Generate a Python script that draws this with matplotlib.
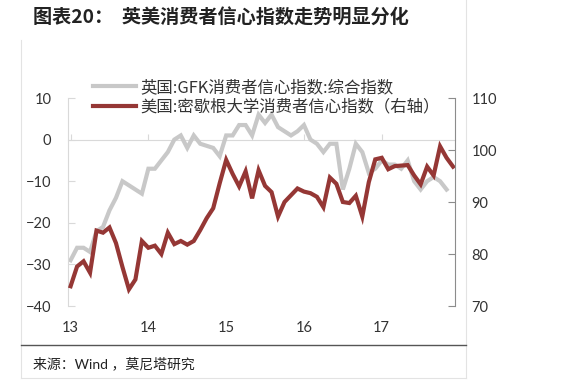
#!/usr/bin/env python3
"""UK vs US consumer confidence, 2013-2017 (monthly)."""

import matplotlib
matplotlib.use("Agg")
import matplotlib.pyplot as plt
from matplotlib.lines import Line2D

plt.rcParams["font.family"] = ["Lato", "Noto Sans CJK SC", "DejaVu Sans"]

# UK GfK composite, Jan 2013 - Nov 2017 (left axis)
uk_gfk = [
    -29, -26, -26, -27, -22, -21, -17, -14, -10, -11, -12, -13,
    -7, -7, -5, -3, 0, 1, -2, 1, -1, -1.5, -2, -4,
    1, 1, 3.5, 3.5, 1, 6, 4, 6, 3, 2, 1, 2,
    3.5, 0, -1, -3, -1, -1, -12, -7, -1, -3, -8, -7,
    -5, -6, -6, -7, -5, -10, -12, -10, -9, -10, -12,
]
# US Michigan sentiment, Jan 2013 - Dec 2017 (right axis)
us_michigan = [
    73.8, 77.6, 78.6, 76.4, 84.5, 84.1, 85.1, 82.1, 77.5, 73.2, 75.1, 82.5,
    81.2, 81.6, 80.0, 84.1, 81.9, 82.5, 81.8, 82.5, 84.6, 86.9, 88.8, 93.6,
    98.1, 95.4, 93.0, 95.9, 90.7, 96.1, 93.1, 91.9, 87.2, 90.0, 91.3, 92.6,
    92.0, 91.7, 91.0, 89.0, 94.7, 93.5, 90.0, 89.8, 91.2, 87.2, 93.8, 98.2,
    98.5, 96.3, 96.9, 97.0, 97.1, 95.1, 93.4, 96.8, 95.1, 100.7, 98.5, 96.8,
]
year_ticks = [0, 12, 24, 36, 48]
year_labels = ["13", "14", "15", "16", "17"]
left_ticks = [10, 0, -10, -20, -30, -40]
right_ticks = [110, 100, 90, 80, 70]

label_uk = "英国:GFK消费者信心指数:综合指数"
label_us = "美国:密歇根大学消费者信心指数（右轴）"

GRAY = "#c8c8c8"
RED = "#953735"
TXT = "#333333"

fig = plt.figure(figsize=(5.69, 3.90), dpi=100)
ax = fig.add_axes([68 / 569, 1 - 306 / 390, (455 - 68) / 569, (306 - 98) / 390])
ax2 = ax.twinx()

ax.plot(range(len(uk_gfk)), uk_gfk, color=GRAY, lw=3.0, solid_joinstyle="miter")
ax2.plot(range(len(us_michigan)), us_michigan, color=RED, lw=3.0, solid_joinstyle="miter")

ax.set_xlim(-0.4, 59.3)
ax.set_ylim(-40, 10)
ax2.set_ylim(70, 110)
ax.set_yticks(left_ticks)
ax2.set_yticks(right_ticks)
ax.set_xticks(year_ticks)
ax.set_xticklabels(year_labels)

for a in (ax, ax2):
    a.patch.set_visible(False)
    for s in ("top", "bottom"):
        a.spines[s].set_visible(False)
ax.spines["right"].set_visible(False)
ax2.spines["left"].set_visible(False)
ax.spines["left"].set_color("#d9d9d9")
ax2.spines["right"].set_color("#8c8c8c")

ax.tick_params(axis="x", length=0, pad=11, labelsize=10.5, labelcolor=TXT)
ax.tick_params(axis="y", direction="in", length=5, color="#d9d9d9", pad=12,
               labelsize=10.5, labelcolor=TXT)
ax2.tick_params(axis="y", direction="in", length=5, color="#8c8c8c", pad=12,
                labelsize=10.5, labelcolor=TXT)

# zero line with small year ticks
zero = ax.secondary_xaxis(40 / 50)
zero.set_xticks(year_ticks)
zero.tick_params(direction="out", length=4, color="#d9d9d9", labelbottom=False, labeltop=False)
zero.spines["top"].set_color("#d9d9d9")

handles = [Line2D([], [], color=GRAY, lw=3.0), Line2D([], [], color=RED, lw=3.0)]
fig.legend(handles, [label_uk, label_us], loc="upper left",
           bbox_to_anchor=(93 / 569, 1 - 79 / 390), frameon=False,
           borderpad=0, borderaxespad=0, handlelength=2.6, handletextpad=0.3,
           labelspacing=0.15, prop={"family": ["Noto Sans CJK SC"], "size": 11.8},
           labelcolor=TXT)

fig.text(33 / 569, 1 - 18 / 390, "图表20：  英美消费者信心指数走势明显分化",
         fontsize=13.8, fontweight="bold", family=["Noto Sans CJK SC"],
         va="center", ha="left", color="#222222")
fig.text(33 / 569, 1 - 363 / 390, "来源：Wind ，莫尼塔研究", fontsize=10,
         va="center", ha="left", color="#222222")

# card frame
def fline(x0, y0, x1, y1, color, lw=0.8):
    fig.add_artist(Line2D([x0 / 569, x1 / 569], [1 - y0 / 390, 1 - y1 / 390],
                          transform=fig.transFigure, color=color, lw=lw))

fline(21, 40, 21, 378, "#e3e3e3")
fline(466, 0, 466, 378, "#e3e3e3")
fline(21, 378, 466, 378, "#e3e3e3")
fline(21, 345, 466, 345, "#555555", lw=1.0)

fig.savefig("out.png", dpi=100)
